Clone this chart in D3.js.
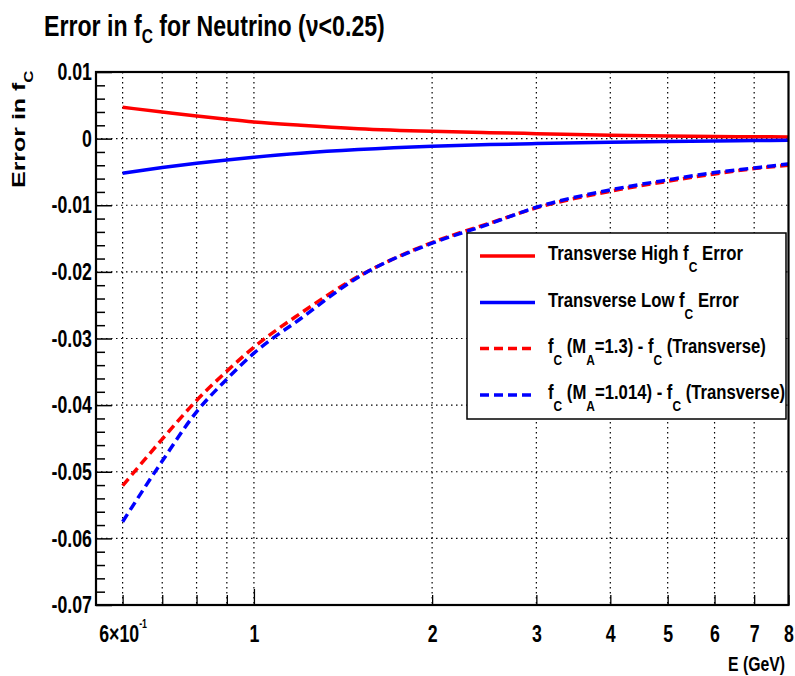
<!DOCTYPE html>
<html>
<head>
<meta charset="utf-8">
<script src="https://cdn.jsdelivr.net/npm/d3@7"></script>
<style>
body { margin: 0; background: #fff; }
text { font-family: "Liberation Sans", Arial, sans-serif; font-weight: bold; }
</style>
</head>
<body>
<svg id="svg"></svg>
<script>
// values
const energy     = [0.6, 0.7, 0.8, 0.9, 1, 1.2, 1.5, 2, 2.5, 3, 4, 5, 6, 7, 8];
const highErr    = [0.0047, 0.0040, 0.0034, 0.0029, 0.0025, 0.0020, 0.0015, 0.0011, 0.0009, 0.00075, 0.0005, 0.0004, 0.00033, 0.00028, 0.00025];
const lowErr     = [-0.0052, -0.00435, -0.0037, -0.0032, -0.0028, -0.0022, -0.00165, -0.00115, -0.0009, -0.00075, -0.00055, -0.00045, -0.00037, -0.0003, -0.00025];
const ma13Diff   = [-0.0521, -0.0451, -0.0393, -0.0349, -0.0313, -0.0262, -0.0207, -0.0156, -0.0127, -0.0104, -0.0079, -0.0064, -0.0053, -0.0045, -0.0040];
const ma1014Diff = [-0.0575, -0.0484, -0.0410, -0.0361, -0.0322, -0.0270, -0.0208, -0.0157, -0.0128, -0.0103, -0.0077, -0.0062, -0.0051, -0.0044, -0.0038];

const yTicks = [-0.07, -0.06, -0.05, -0.04, -0.03, -0.02, -0.01, 0, 0.01];
const xLabelTicks = [0.6, 1, 2, 3, 4, 5, 6, 7, 8];
const xMinorTicks = [0.6, 0.7, 0.8, 0.9, 2, 3, 4, 5, 6, 7, 8];
const xGrid = [0.6, 0.7, 0.8, 0.9, 1, 2, 3, 4, 5, 6, 7];

const series = [
    { vals: highErr,    color: "red",  dash: null },
    { vals: lowErr,     color: "blue", dash: null },
    { vals: ma13Diff,   color: "red",  dash: "9,5" },
    { vals: ma1014Diff, color: "blue", dash: "9,5" }
];
const legendLabels = [
    [["Transverse High f"], ["C", 1], [" Error"]],
    [["Transverse Low f"], ["C", 1], [" Error"]],
    [["f"], ["C", 1], [" (M"], ["A", 1], ["=1.3) - f"], ["C", 1], [" (Transverse)"]],
    [["f"], ["C", 1], [" (M"], ["A", 1], ["=1.014) - f"], ["C", 1], [" (Transverse)"]]
];
const legendWidths = [195, 191, 218, 237];

const W = 795, H = 676;
const margin = { left: 96, top: 72, right: 6.5, bottom: 71 };
const width = W - margin.left - margin.right;
const height = H - margin.top - margin.bottom;

const svg = d3.select("#svg").attr("width", W).attr("height", H);
svg.append("rect").attr("width", W).attr("height", H).attr("fill", "#fff");
const plot = svg.append("g").attr("transform", `translate(${margin.left}, ${margin.top})`);

const xScale = d3.scaleLog().domain([0.541, 8]).range([0, width]);
const yScale = d3.scaleLinear().domain([-0.07, 0.01]).range([height, 0]);

// dotted grid
plot.append("g").selectAll("line")
    .data(xGrid)
    .join("line")
    .attr("x1", d => xScale(d)).attr("x2", d => xScale(d))
    .attr("y1", 0).attr("y2", height)
    .attr("stroke", "#000").attr("stroke-width", 1.2)
    .attr("stroke-dasharray", "1.5,3.5");
plot.append("g").selectAll("line")
    .data(yTicks.slice(1, -1))
    .join("line")
    .attr("x1", 0).attr("x2", width)
    .attr("y1", d => yScale(d)).attr("y2", d => yScale(d))
    .attr("stroke", "#000").attr("stroke-width", 1.2)
    .attr("stroke-dasharray", "1.5,3.5");

// curves
const line = d3.line()
    .x((d, i) => xScale(energy[i]))
    .y(d => yScale(d))
    .curve(d3.curveMonotoneX);
plot.append("g").selectAll("path")
    .data(series)
    .join("path")
    .attr("fill", "none")
    .attr("stroke", d => d.color)
    .attr("stroke-width", 3.5)
    .attr("stroke-dasharray", d => d.dash)
    .attr("d", d => line(d.vals));

// y axis, ticks pointing inward
const tickScale = 0.74;
const yMinor = d3.range(-35, 6).filter(i => i % 5 != 0).map(i => i * 0.002);
plot.append("g")
    .call(d3.axisLeft(yScale).tickValues(yMinor).tickSize(-9).tickFormat(""))
    .call(g => g.select(".domain").remove())
    .selectAll("line").attr("stroke-width", 1.5);
plot.append("g")
    .call(d3.axisLeft(yScale).tickValues(yTicks).tickSize(-16).tickPadding(4)
        .tickFormat(d => Math.abs(d) < 1e-9 ? "0" : d.toFixed(2)))
    .call(g => g.select(".domain").remove())
    .call(g => g.selectAll("line").attr("stroke-width", 1.5))
    .selectAll("text")
    .attr("font-size", 24)
    .attr("fill", "#000")
    .attr("x", -4 / tickScale)
    .attr("transform", `scale(${tickScale},1)`);

// x axis
plot.append("g")
    .attr("transform", `translate(0, ${height})`)
    .call(d3.axisBottom(xScale).tickValues(xMinorTicks).tickSize(-10).tickFormat(""))
    .call(g => g.select(".domain").remove())
    .selectAll("line").attr("stroke-width", 1.3);
plot.append("g")
    .attr("transform", `translate(0, ${height})`)
    .call(d3.axisBottom(xScale).tickValues([1]).tickSize(-16).tickFormat(""))
    .call(g => g.select(".domain").remove())
    .selectAll("line").attr("stroke-width", 1.3);
const xLab = plot.append("g")
    .attr("transform", `translate(0, ${height})`)
    .call(d3.axisBottom(xScale).tickValues(xLabelTicks).tickSize(0).tickPadding(20)
        .tickFormat(d => d < 1 ? "" : String(d)))
    .call(g => g.select(".domain").remove());
xLab.selectAll("text")
    .attr("font-size", 24)
    .attr("fill", "#000")
    .attr("transform", `scale(${tickScale},1)`)
    .filter(d => d < 1)
    .each(function() {
        const t = d3.select(this);
        t.append("tspan").text("6\u00d710");
        t.append("tspan").attr("font-size", 12).attr("dy", -13.7).text("-1");
    });

// frame
plot.append("rect")
    .attr("width", width).attr("height", height)
    .attr("fill", "none").attr("stroke", "#000").attr("stroke-width", 2.2);

// rich text with sub/superscripts, squeezed to a target width
function richText(parent, x, y, parts, opt) {
    const g = parent.append("g").attr("transform", `translate(${x}, ${y})` + (opt.rotate ? " rotate(-90)" : ""));
    const t = g.append("text").attr("font-size", opt.size).attr("text-anchor", opt.anchor || "start").attr("fill", "#000");
    let shift = 0;
    parts.forEach(p => {
        const s = t.append("tspan").text(p[0]);
        if (p[1]) {
            s.attr("font-size", opt.subSize).attr("dy", opt.subDy - shift);
            shift = opt.subDy;
        } else if (shift) {
            s.attr("dy", -shift);
            shift = 0;
        }
    });
    const w = t.node().getBBox().width;
    t.attr("transform", `scale(${opt.width / w},1)`);
    return g;
}

// title
richText(svg, 44, 36, [["Error in f"], ["C", 1], [" for Neutrino (\u03bd<0.25)"]],
    { size: 29, subSize: 19.5, subDy: 7.3, width: 341 });
// y title
richText(svg, 25.3, 188, [["Error in f"], ["C", 1]],
    { size: 17.7, subSize: 12, subDy: 8, width: 118, rotate: true });
// x title
richText(svg, 785, 671, [["E (GeV)"]], { size: 20, width: 57, anchor: "end" });

// legend
const legend = svg.append("g");
legend.append("rect")
    .attr("x", 467).attr("y", 233).attr("width", 319).attr("height", 186)
    .attr("fill", "#fff").attr("stroke", "#000").attr("stroke-width", 1.5);
const rowY = [256, 302.5, 348.5, 395];
series.forEach((s, i) => {
    legend.append("line")
        .attr("x1", 480).attr("x2", 535).attr("y1", rowY[i]).attr("y2", rowY[i])
        .attr("stroke", s.color).attr("stroke-width", 3.5)
        .attr("stroke-dasharray", s.dash);
    richText(legend, 548, rowY[i] + 4, legendLabels[i],
        { size: 21, subSize: 15, subDy: 12.3, width: legendWidths[i] });
});
</script>
</body>
</html>
